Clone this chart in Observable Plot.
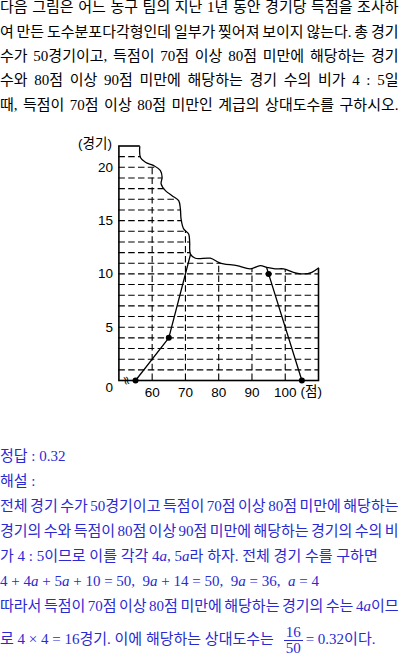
<!DOCTYPE html>
<html>
<head>
<meta charset="utf-8">
<script src="https://cdn.jsdelivr.net/npm/d3@7"></script>
<script src="https://cdn.jsdelivr.net/npm/@observablehq/plot@0.6"></script>
<style>
  html, body { margin: 0; padding: 0; background: #fff; width: 400px; height: 655px; overflow: hidden; }
  .txt { position: absolute; left: 0; width: 400px; font-family: "Liberation Serif", "Noto Sans CJK KR", serif; font-size: 15px; color: #000; }
  .txt div { height: 24.3px; line-height: 24.3px; white-space: nowrap; }
  .txt div span.ln { display: inline-block; white-space: nowrap; }
  #q { top: -4.6px; }
  #a { top: 443.5px; color: #2a2ad2; }
  #a div { height: 25px; line-height: 25px; }
  #chart { position: absolute; left: 0; top: 125px; }
  .frac { display: inline-block; vertical-align: middle; text-align: center; line-height: 14.5px; margin: 0 3px 0 6px; }
  .frac span { display: block; padding: 0 2px; }
  .frac .num { border-bottom: 1px solid #2a2ad2; }
  #last { position: absolute; top: 623.5px; left: 0; height: 30px; line-height: 30px; white-space: nowrap; }
  i { font-family: "Liberation Serif", serif; }
</style>
</head>
<body>
<div id="q" class="txt"></div>
<div id="chart"></div>
<div id="a" class="txt"></div>
<div id="last" class="txt" style="color:#2a2ad2"></div>
<script>
// ---- text ----
const questionLines = [
  "다음 그림은 어느 농구 팀의 지난 1년 동안 경기당 득점을 조사하",
  "여 만든 도수분포다각형인데 일부가 찢어져 보이지 않는다. 총 경기",
  "수가 50경기이고, 득점이 70점 이상 80점 미만에 해당하는 경기",
  "수와 80점 이상 90점 미만에 해당하는 경기 수의 비가 4 : 5일",
  "때, 득점이 70점 이상 80점 미만인 계급의 상대도수를 구하시오."
];
const answerLines = [
  ["정답 : 0.32", false],
  ["해설 :", false],
  ["전체 경기 수가 50경기이고 득점이 70점 이상 80점 미만에 해당하는", true],
  ["경기의 수와 득점이 80점 이상 90점 미만에 해당하는 경기의 수의 비", true],
  ["가 4 : 5이므로 이를 각각 4<i>a</i>, 5<i>a</i>라 하자. 전체 경기 수를 구하면", false],
  ["4 + 4<i>a</i> + 5<i>a</i> + 10 = 50, &nbsp;9<i>a</i> + 14 = 50, &nbsp;9<i>a</i> = 36, &nbsp;<i>a</i> = 4", false],
  ["따라서 득점이 70점 이상 80점 미만에 해당하는 경기의 수는 4<i>a</i>이므", true]
];
const lastLine = '로 4 × 4 = 16경기. 이에 해당하는 상대도수는 <span class="frac"><span class="num">16</span><span>50</span></span>= 0.32이다.';

function addLine(parent, html, justify) {
  const d = document.createElement("div");
  const s = document.createElement("span");
  s.className = "ln";
  s.innerHTML = html;
  d.appendChild(s);
  parent.appendChild(d);
  if (justify) {
    const w = s.getBoundingClientRect().width;
    const n = (s.textContent.match(/ /g) || []).length;
    if (n > 0) s.style.wordSpacing = ((398.5 - w) / n) + "px";
  }
}
const q = document.getElementById("q");
questionLines.forEach(t => addLine(q, t, true));
const a = document.getElementById("a");
answerLines.forEach(([t, j]) => addLine(a, t, j));
document.getElementById("last").innerHTML = lastLine;

// ---- chart data ----
const scores = [55, 65, 75, 85, 95, 105];
const games = [0, 4, 16, 20, 10, 0];
const xTicks = [60, 70, 80, 90, 100];
const yTicks = [5, 10, 15, 20];
const gridLevels = [1,2,3,4,5,6,7,8,9,10,11,12,13,14,15,16,17,18,19,20,21];
const xDomain = [50, 110];
const yDomain = [0, 22];
// torn paper edge (score, games)
const tornX = [56.27,56.48,57.98,60.47,62.48,62.99,62.69,63.98,65.99,67.97,68.48,68.69,69.47,70.97,71.27,71.48,72.98,77.48,79.97,81.47,85.49,89.48,92.48,94.49,96.98,99.47,102.47,105.47,107.99,110];
const tornY = [21.94,20.93,20.47,20.16,19.69,19.06,18.44,17.81,17.34,16.87,16.10,15.16,14.22,13.75,12.97,11.88,11.47,11.47,11.09,10.94,10.78,10.47,10.78,10.62,10.47,10.47,10.15,10.00,10.15,10.55];

const poly = scores.map((s, i) => ({score: s, games: games[i]}));
const torn = tornX.map((x, i) => ({x, y: tornY[i]}));
const tornFill = torn.concat([{x: 111.5, y: 10.55}, {x: 111.5, y: 23.5}, {x: 56.27, y: 23.5}]);

const chart = Plot.plot({
  width: 400,
  height: 285,
  marginLeft: 118.4,
  marginRight: 82,
  marginTop: 20.5,
  marginBottom: 30,
  x: {domain: xDomain, axis: null},
  y: {domain: yDomain, axis: null},
  style: {fontFamily: "'Liberation Sans', Arial, sans-serif", fontSize: "13.5px", color: "#000", background: "transparent", overflow: "visible"},
  marks: [
    Plot.ruleY(gridLevels, {x1: xDomain[0], x2: xDomain[1], stroke: "#000", strokeWidth: 1.1, strokeDasharray: "6.5,3.3"}),
    Plot.ruleX(xTicks, {y1: yDomain[0], y2: yDomain[1], stroke: "#000", strokeWidth: 1.1, strokeDasharray: "6.5,3.3"}),
    Plot.frame({stroke: "#000", strokeWidth: 1.6}),
    Plot.line(poly, {x: "score", y: "games", stroke: "#000", strokeWidth: 1.3}),
    Plot.dot(poly, {x: "score", y: "games", r: 3, fill: "#000", stroke: "none"}),
    Plot.line(tornFill, {x: "x", y: "y", fill: "#fff", stroke: "none", curve: "linear"}),
    Plot.line(torn, {x: "x", y: "y", stroke: "#000", strokeWidth: 1.3, curve: "catmull-rom"}),
    Plot.axisX(xTicks, {tickSize: 0, tickPadding: 6.5, fontSize: 13.5, anchor: "bottom"}),
    Plot.axisY(yTicks, {tickSize: 0, tickPadding: 5.8, fontSize: 13.5, anchor: "left"}),
    Plot.text([0], {x: xDomain[0], y: d => d, text: d => String(d), dx: -6, dy: 7, textAnchor: "end", fontSize: 13.5}),
    Plot.text(["(경기)"], {x: xDomain[0], y: yDomain[1], text: d => d, dx: -7, dy: -2, textAnchor: "end", fontSize: 13.5, fontFamily: "'Liberation Sans', 'Noto Sans CJK KR', sans-serif"}),
    Plot.text(["(점)"], {x: xDomain[1], y: yDomain[0], text: d => d, dx: -18, dy: 11.5, textAnchor: "start", fontSize: 13.5, fontFamily: "'Liberation Sans', 'Noto Sans CJK KR', sans-serif"}),
    Plot.text(["≈"], {x: xDomain[0], y: yDomain[0], text: d => d, dx: 7.5, dy: 0, rotate: 75, fontSize: 12, fontFamily: "'DejaVu Sans', sans-serif"})
  ]
});
document.getElementById("chart").appendChild(chart);
</script>
</body>
</html>
